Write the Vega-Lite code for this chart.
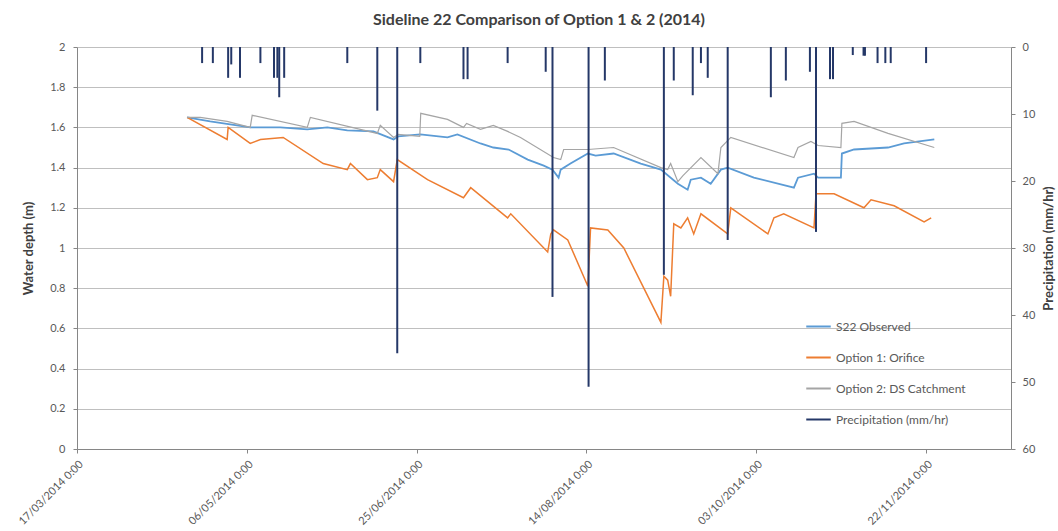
{
  "$schema": "https://vega.github.io/schema/vega-lite/v6.json",
  "autosize": {"type": "none"},
  "padding": {"left": 77, "top": 47, "right": 47, "bottom": 82},
  "width": 934,
  "height": 402,
  "background": "white",
  "config": {"font": "Lato", "view": {"stroke": null}},
  "title": {"text": "Sideline 22 Comparison of Option 1 & 2 (2014)", "fontSize": 16, "fontWeight": "bold", "color": "#404040", "font": "Lato", "offset": 13, "anchor": "middle", "dx": -5},
  "datasets": {
    "depth": [
      {"t": "2014-04-18T10:00Z", "s": "S22 Observed", "v": 1.65},
      {"t": "2014-04-25T05:00Z", "s": "S22 Observed", "v": 1.63},
      {"t": "2014-05-07T00:00Z", "s": "S22 Observed", "v": 1.60},
      {"t": "2014-05-15T20:00Z", "s": "S22 Observed", "v": 1.60},
      {"t": "2014-05-23T19:00Z", "s": "S22 Observed", "v": 1.59},
      {"t": "2014-05-29T17:00Z", "s": "S22 Observed", "v": 1.60},
      {"t": "2014-06-04T14:00Z", "s": "S22 Observed", "v": 1.585},
      {"t": "2014-06-12T07:00Z", "s": "S22 Observed", "v": 1.58},
      {"t": "2014-06-18T05:00Z", "s": "S22 Observed", "v": 1.54},
      {"t": "2014-06-19T14:00Z", "s": "S22 Observed", "v": 1.555},
      {"t": "2014-06-26T02:00Z", "s": "S22 Observed", "v": 1.565},
      {"t": "2014-07-04T02:00Z", "s": "S22 Observed", "v": 1.55},
      {"t": "2014-07-07T00:00Z", "s": "S22 Observed", "v": 1.565},
      {"t": "2014-07-13T19:00Z", "s": "S22 Observed", "v": 1.52},
      {"t": "2014-07-17T14:00Z", "s": "S22 Observed", "v": 1.50},
      {"t": "2014-07-22T02:00Z", "s": "S22 Observed", "v": 1.49},
      {"t": "2014-07-27T17:00Z", "s": "S22 Observed", "v": 1.44},
      {"t": "2014-08-01T10:00Z", "s": "S22 Observed", "v": 1.41},
      {"t": "2014-08-04T00:00Z", "s": "S22 Observed", "v": 1.39},
      {"t": "2014-08-05T19:00Z", "s": "S22 Observed", "v": 1.35},
      {"t": "2014-08-06T10:00Z", "s": "S22 Observed", "v": 1.39},
      {"t": "2014-08-09T07:00Z", "s": "S22 Observed", "v": 1.42},
      {"t": "2014-08-14T10:00Z", "s": "S22 Observed", "v": 1.47},
      {"t": "2014-08-16T17:00Z", "s": "S22 Observed", "v": 1.46},
      {"t": "2014-08-22T00:00Z", "s": "S22 Observed", "v": 1.47},
      {"t": "2014-08-30T00:00Z", "s": "S22 Observed", "v": 1.42},
      {"t": "2014-09-04T22:00Z", "s": "S22 Observed", "v": 1.39},
      {"t": "2014-09-09T22:00Z", "s": "S22 Observed", "v": 1.32},
      {"t": "2014-09-12T19:00Z", "s": "S22 Observed", "v": 1.29},
      {"t": "2014-09-13T17:00Z", "s": "S22 Observed", "v": 1.34},
      {"t": "2014-09-16T17:00Z", "s": "S22 Observed", "v": 1.35},
      {"t": "2014-09-19T14:00Z", "s": "S22 Observed", "v": 1.32},
      {"t": "2014-09-22T14:00Z", "s": "S22 Observed", "v": 1.39},
      {"t": "2014-09-24T14:00Z", "s": "S22 Observed", "v": 1.40},
      {"t": "2014-10-02T07:00Z", "s": "S22 Observed", "v": 1.35},
      {"t": "2014-10-14T02:00Z", "s": "S22 Observed", "v": 1.30},
      {"t": "2014-10-15T07:00Z", "s": "S22 Observed", "v": 1.35},
      {"t": "2014-10-20T00:00Z", "s": "S22 Observed", "v": 1.37},
      {"t": "2014-10-21T05:00Z", "s": "S22 Observed", "v": 1.35},
      {"t": "2014-10-27T22:00Z", "s": "S22 Observed", "v": 1.35},
      {"t": "2014-10-28T05:00Z", "s": "S22 Observed", "v": 1.47},
      {"t": "2014-10-31T19:00Z", "s": "S22 Observed", "v": 1.49},
      {"t": "2014-11-10T19:00Z", "s": "S22 Observed", "v": 1.50},
      {"t": "2014-11-15T12:00Z", "s": "S22 Observed", "v": 1.52},
      {"t": "2014-11-24T10:00Z", "s": "S22 Observed", "v": 1.54},

      {"t": "2014-04-18T10:00Z", "s": "Option 1: Orifice", "v": 1.65},
      {"t": "2014-04-30T05:00Z", "s": "Option 1: Orifice", "v": 1.54},
      {"t": "2014-04-30T12:00Z", "s": "Option 1: Orifice", "v": 1.60},
      {"t": "2014-05-07T00:00Z", "s": "Option 1: Orifice", "v": 1.52},
      {"t": "2014-05-10T00:00Z", "s": "Option 1: Orifice", "v": 1.54},
      {"t": "2014-05-16T17:00Z", "s": "Option 1: Orifice", "v": 1.55},
      {"t": "2014-05-28T12:00Z", "s": "Option 1: Orifice", "v": 1.42},
      {"t": "2014-06-04T14:00Z", "s": "Option 1: Orifice", "v": 1.39},
      {"t": "2014-06-05T12:00Z", "s": "Option 1: Orifice", "v": 1.42},
      {"t": "2014-06-10T12:00Z", "s": "Option 1: Orifice", "v": 1.34},
      {"t": "2014-06-13T10:00Z", "s": "Option 1: Orifice", "v": 1.35},
      {"t": "2014-06-14T07:00Z", "s": "Option 1: Orifice", "v": 1.39},
      {"t": "2014-06-18T05:00Z", "s": "Option 1: Orifice", "v": 1.33},
      {"t": "2014-06-19T07:00Z", "s": "Option 1: Orifice", "v": 1.44},
      {"t": "2014-06-28T05:00Z", "s": "Option 1: Orifice", "v": 1.34},
      {"t": "2014-07-08T19:00Z", "s": "Option 1: Orifice", "v": 1.25},
      {"t": "2014-07-10T22:00Z", "s": "Option 1: Orifice", "v": 1.30},
      {"t": "2014-07-21T19:00Z", "s": "Option 1: Orifice", "v": 1.15},
      {"t": "2014-07-22T17:00Z", "s": "Option 1: Orifice", "v": 1.17},
      {"t": "2014-08-02T14:00Z", "s": "Option 1: Orifice", "v": 0.98},
      {"t": "2014-08-03T12:00Z", "s": "Option 1: Orifice", "v": 1.07},
      {"t": "2014-08-04T07:00Z", "s": "Option 1: Orifice", "v": 1.09},
      {"t": "2014-08-08T12:00Z", "s": "Option 1: Orifice", "v": 1.04},
      {"t": "2014-08-14T10:00Z", "s": "Option 1: Orifice", "v": 0.81},
      {"t": "2014-08-15T05:00Z", "s": "Option 1: Orifice", "v": 1.10},
      {"t": "2014-08-20T07:00Z", "s": "Option 1: Orifice", "v": 1.09},
      {"t": "2014-08-25T00:00Z", "s": "Option 1: Orifice", "v": 1.00},
      {"t": "2014-09-04T22:00Z", "s": "Option 1: Orifice", "v": 0.63},
      {"t": "2014-09-05T19:00Z", "s": "Option 1: Orifice", "v": 0.86},
      {"t": "2014-09-06T22:00Z", "s": "Option 1: Orifice", "v": 0.84},
      {"t": "2014-09-07T19:00Z", "s": "Option 1: Orifice", "v": 0.76},
      {"t": "2014-09-08T17:00Z", "s": "Option 1: Orifice", "v": 1.12},
      {"t": "2014-09-10T19:00Z", "s": "Option 1: Orifice", "v": 1.10},
      {"t": "2014-09-12T19:00Z", "s": "Option 1: Orifice", "v": 1.15},
      {"t": "2014-09-14T14:00Z", "s": "Option 1: Orifice", "v": 1.07},
      {"t": "2014-09-16T17:00Z", "s": "Option 1: Orifice", "v": 1.17},
      {"t": "2014-09-24T14:00Z", "s": "Option 1: Orifice", "v": 1.07},
      {"t": "2014-09-25T12:00Z", "s": "Option 1: Orifice", "v": 1.20},
      {"t": "2014-10-06T10:00Z", "s": "Option 1: Orifice", "v": 1.07},
      {"t": "2014-10-08T05:00Z", "s": "Option 1: Orifice", "v": 1.15},
      {"t": "2014-10-11T02:00Z", "s": "Option 1: Orifice", "v": 1.17},
      {"t": "2014-10-20T00:00Z", "s": "Option 1: Orifice", "v": 1.10},
      {"t": "2014-10-20T14:00Z", "s": "Option 1: Orifice", "v": 1.27},
      {"t": "2014-10-25T22:00Z", "s": "Option 1: Orifice", "v": 1.27},
      {"t": "2014-11-03T17:00Z", "s": "Option 1: Orifice", "v": 1.20},
      {"t": "2014-11-05T19:00Z", "s": "Option 1: Orifice", "v": 1.24},
      {"t": "2014-11-12T14:00Z", "s": "Option 1: Orifice", "v": 1.21},
      {"t": "2014-11-21T10:00Z", "s": "Option 1: Orifice", "v": 1.13},
      {"t": "2014-11-23T12:00Z", "s": "Option 1: Orifice", "v": 1.15},

      {"t": "2014-04-18T10:00Z", "s": "Option 2: DS Catchment", "v": 1.65},
      {"t": "2014-04-22T07:00Z", "s": "Option 2: DS Catchment", "v": 1.65},
      {"t": "2014-04-30T05:00Z", "s": "Option 2: DS Catchment", "v": 1.63},
      {"t": "2014-05-07T00:00Z", "s": "Option 2: DS Catchment", "v": 1.60},
      {"t": "2014-05-07T14:00Z", "s": "Option 2: DS Catchment", "v": 1.66},
      {"t": "2014-05-23T19:00Z", "s": "Option 2: DS Catchment", "v": 1.60},
      {"t": "2014-05-24T17:00Z", "s": "Option 2: DS Catchment", "v": 1.65},
      {"t": "2014-06-08T10:00Z", "s": "Option 2: DS Catchment", "v": 1.59},
      {"t": "2014-06-13T10:00Z", "s": "Option 2: DS Catchment", "v": 1.57},
      {"t": "2014-06-14T07:00Z", "s": "Option 2: DS Catchment", "v": 1.61},
      {"t": "2014-06-18T05:00Z", "s": "Option 2: DS Catchment", "v": 1.55},
      {"t": "2014-06-19T14:00Z", "s": "Option 2: DS Catchment", "v": 1.565},
      {"t": "2014-06-25T22:00Z", "s": "Option 2: DS Catchment", "v": 1.555},
      {"t": "2014-06-26T05:00Z", "s": "Option 2: DS Catchment", "v": 1.67},
      {"t": "2014-07-04T02:00Z", "s": "Option 2: DS Catchment", "v": 1.64},
      {"t": "2014-07-08T19:00Z", "s": "Option 2: DS Catchment", "v": 1.60},
      {"t": "2014-07-09T17:00Z", "s": "Option 2: DS Catchment", "v": 1.62},
      {"t": "2014-07-13T19:00Z", "s": "Option 2: DS Catchment", "v": 1.59},
      {"t": "2014-07-17T14:00Z", "s": "Option 2: DS Catchment", "v": 1.61},
      {"t": "2014-07-21T19:00Z", "s": "Option 2: DS Catchment", "v": 1.58},
      {"t": "2014-07-25T14:00Z", "s": "Option 2: DS Catchment", "v": 1.55},
      {"t": "2014-08-04T07:00Z", "s": "Option 2: DS Catchment", "v": 1.45},
      {"t": "2014-08-06T10:00Z", "s": "Option 2: DS Catchment", "v": 1.44},
      {"t": "2014-08-07T07:00Z", "s": "Option 2: DS Catchment", "v": 1.49},
      {"t": "2014-08-14T10:00Z", "s": "Option 2: DS Catchment", "v": 1.49},
      {"t": "2014-08-22T00:00Z", "s": "Option 2: DS Catchment", "v": 1.50},
      {"t": "2014-09-04T22:00Z", "s": "Option 2: DS Catchment", "v": 1.40},
      {"t": "2014-09-06T22:00Z", "s": "Option 2: DS Catchment", "v": 1.39},
      {"t": "2014-09-07T19:00Z", "s": "Option 2: DS Catchment", "v": 1.42},
      {"t": "2014-09-09T22:00Z", "s": "Option 2: DS Catchment", "v": 1.33},
      {"t": "2014-09-11T10:00Z", "s": "Option 2: DS Catchment", "v": 1.36},
      {"t": "2014-09-16T17:00Z", "s": "Option 2: DS Catchment", "v": 1.45},
      {"t": "2014-09-21T17:00Z", "s": "Option 2: DS Catchment", "v": 1.37},
      {"t": "2014-09-22T14:00Z", "s": "Option 2: DS Catchment", "v": 1.50},
      {"t": "2014-09-25T12:00Z", "s": "Option 2: DS Catchment", "v": 1.55},
      {"t": "2014-10-14T02:00Z", "s": "Option 2: DS Catchment", "v": 1.45},
      {"t": "2014-10-15T07:00Z", "s": "Option 2: DS Catchment", "v": 1.50},
      {"t": "2014-10-19T02:00Z", "s": "Option 2: DS Catchment", "v": 1.53},
      {"t": "2014-10-21T05:00Z", "s": "Option 2: DS Catchment", "v": 1.51},
      {"t": "2014-10-27T22:00Z", "s": "Option 2: DS Catchment", "v": 1.50},
      {"t": "2014-10-28T05:00Z", "s": "Option 2: DS Catchment", "v": 1.62},
      {"t": "2014-10-31T19:00Z", "s": "Option 2: DS Catchment", "v": 1.63},
      {"t": "2014-11-10T19:00Z", "s": "Option 2: DS Catchment", "v": 1.57},
      {"t": "2014-11-24T10:00Z", "s": "Option 2: DS Catchment", "v": 1.50}
    ],
    "rain": [
      {"t": "2014-04-22T20:00Z", "p": 2.4},
      {"t": "2014-04-26T00:00Z", "p": 2.4},
      {"t": "2014-04-30T12:00Z", "p": 4.6},
      {"t": "2014-05-01T10:00Z", "p": 2.6},
      {"t": "2014-05-04T00:00Z", "p": 4.6},
      {"t": "2014-05-10T00:00Z", "p": 2.4},
      {"t": "2014-05-14T00:00Z", "p": 4.6},
      {"t": "2014-05-15T00:00Z", "p": 4.6},
      {"t": "2014-05-15T13:00Z", "p": 7.5},
      {"t": "2014-05-17T00:00Z", "p": 4.6},
      {"t": "2014-06-04T14:00Z", "p": 2.4},
      {"t": "2014-06-13T10:00Z", "p": 9.5},
      {"t": "2014-06-19T07:00Z", "p": 45.7},
      {"t": "2014-06-26T02:00Z", "p": 2.4},
      {"t": "2014-07-08T19:00Z", "p": 4.8},
      {"t": "2014-07-10T00:00Z", "p": 4.8},
      {"t": "2014-07-21T19:00Z", "p": 2.4},
      {"t": "2014-08-02T00:00Z", "p": 3.7},
      {"t": "2014-08-04T00:00Z", "p": 37.3},
      {"t": "2014-08-14T15:00Z", "p": 50.7},
      {"t": "2014-08-19T10:00Z", "p": 5.0},
      {"t": "2014-09-05T19:00Z", "p": 34.0},
      {"t": "2014-09-08T17:00Z", "p": 5.0},
      {"t": "2014-09-14T07:00Z", "p": 7.2},
      {"t": "2014-09-16T17:00Z", "p": 2.4},
      {"t": "2014-09-18T17:00Z", "p": 4.6},
      {"t": "2014-09-24T14:00Z", "p": 28.8},
      {"t": "2014-10-07T07:00Z", "p": 7.5},
      {"t": "2014-10-11T17:00Z", "p": 5.0},
      {"t": "2014-10-18T19:00Z", "p": 3.7},
      {"t": "2014-10-20T14:00Z", "p": 27.6},
      {"t": "2014-10-24T17:00Z", "p": 4.8},
      {"t": "2014-10-25T14:00Z", "p": 4.8},
      {"t": "2014-10-31T10:00Z", "p": 1.2},
      {"t": "2014-11-03T14:00Z", "p": 1.3},
      {"t": "2014-11-04T00:00Z", "p": 1.3},
      {"t": "2014-11-07T17:00Z", "p": 2.4},
      {"t": "2014-11-10T00:00Z", "p": 2.4},
      {"t": "2014-11-11T14:00Z", "p": 2.4},
      {"t": "2014-11-22T00:00Z", "p": 2.4}
    ]
  },
  "layer": [
    {
      "data": {"name": "depth"},
      "mark": {"type": "line"},
      "encoding": {
        "x": {
          "field": "t", "type": "temporal",
          "scale": {"type": "utc", "domain": [{"year": 2014, "month": 3, "date": 17, "utc": true}, {"year": 2014, "month": 12, "date": 17, "utc": true}]},
          "axis": {
            "title": null,
            "values": [
              {"year": 2014, "month": 3, "date": 17, "utc": true},
              {"year": 2014, "month": 5, "date": 6, "utc": true},
              {"year": 2014, "month": 6, "date": 25, "utc": true},
              {"year": 2014, "month": 8, "date": 14, "utc": true},
              {"year": 2014, "month": 10, "date": 3, "utc": true},
              {"year": 2014, "month": 11, "date": 22, "utc": true}
            ],
            "format": "%d/%m/%Y 0:00",
            "labelAngle": -45,
            "labelFontSize": 11,
            "labelColor": "#595959",
            "labelFlush": false,
            "labelOverlap": false,
            "labelPadding": 5,
            "grid": false,
            "domainColor": "#868686",
            "tickColor": "#868686",
            "tickSize": 4
          }
        },
        "y": {
          "field": "v", "type": "quantitative",
          "scale": {"domain": [0, 2]},
          "axis": {
            "title": "Water depth (m)",
            "titleFontSize": 13,
            "titleFontWeight": "bold",
            "titleColor": "#404040",
            "titlePadding": 14,
            "values": [0, 0.2, 0.4, 0.6, 0.8, 1, 1.2, 1.4, 1.6, 1.8, 2],
            "format": "~g",
            "labelFontSize": 11,
            "labelColor": "#595959",
            "labelPadding": 8,
            "grid": true,
            "gridColor": "#bfbfbf",
            "domainColor": "#868686",
            "tickColor": "#868686",
            "tickSize": 4
          }
        },
        "color": {
          "field": "s", "type": "nominal",
          "scale": {
            "domain": ["S22 Observed", "Option 1: Orifice", "Option 2: DS Catchment", "Precipitation (mm/hr)"],
            "range": ["#5b9bd5", "#ed7d31", "#a5a5a5", "#253868"]
          },
          "legend": {
            "orient": "none",
            "legendX": 728,
            "legendY": 266,
            "title": null,
            "symbolType": "stroke",
            "symbolSize": 600,
            "symbolStrokeWidth": 2,
            "labelFontSize": 12,
            "labelColor": "#595959",
            "labelOffset": 4,
            "rowPadding": 11
          }
        },
        "strokeWidth": {
          "field": "s", "type": "nominal",
          "scale": {"domain": ["S22 Observed", "Option 1: Orifice", "Option 2: DS Catchment"], "range": [1.8, 1.2, 1.2]},
          "legend": null
        }
      }
    },
    {
      "data": {"name": "rain"},
      "mark": {"type": "rule", "strokeWidth": 2},
      "encoding": {
        "x": {"field": "t", "type": "temporal"},
        "y": {
          "field": "p", "type": "quantitative",
          "scale": {"domain": [0, 60], "reverse": true},
          "axis": {
            "orient": "right",
            "title": "Precipitation (mm/hr)",
            "titleAngle": 270,
            "titleFontSize": 13,
            "titleFontWeight": "bold",
            "titleColor": "#404040",
            "titlePadding": 21,
            "values": [0, 10, 20, 30, 40, 50, 60],
            "labelFontSize": 11,
            "labelColor": "#595959",
            "labelPadding": 7,
            "grid": false,
            "domainColor": "#868686",
            "tickColor": "#868686",
            "tickSize": 4
          }
        },
        "y2": {"datum": 0},
        "color": {"datum": "Precipitation (mm/hr)", "type": "nominal"}
      }
    }
  ],
  "resolve": {"scale": {"y": "independent", "strokeWidth": "independent"}, "axis": {"y": "independent"}}
}
